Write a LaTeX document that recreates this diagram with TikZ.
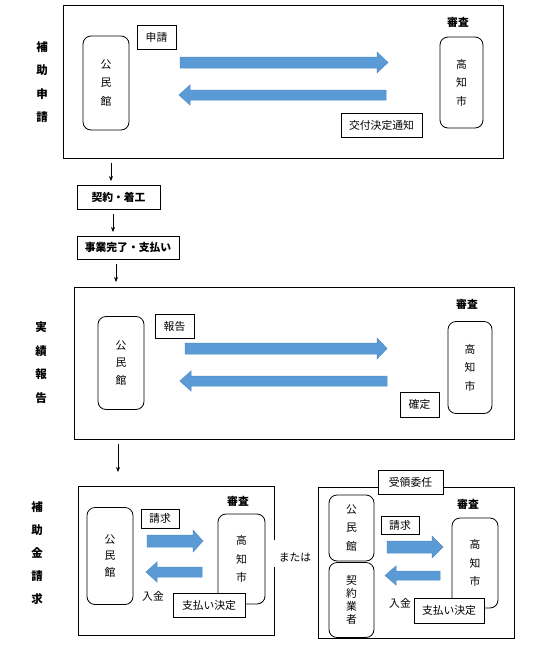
\documentclass[tikz,border=0pt]{standalone}
\usepackage{fontspec}
\setmainfont{Noto Sans CJK JP}
\usetikzlibrary{arrows.meta}
\definecolor{arfill}{HTML}{5B9BD5}
\definecolor{ardraw}{HTML}{4F8BC6}
\newcommand{\vsp}[1]{\fontsize{10.8}{#1}\selectfont}
\newcommand{\rblk}[6]{\filldraw[blk] (#1,{#3-#4}) -- ({#2-#6},{#3-#4}) -- ({#2-#6},{#3-#5}) -- (#2,#3) -- ({#2-#6},{#3+#5}) -- ({#2-#6},{#3+#4}) -- (#1,{#3+#4}) -- cycle;}
\newcommand{\lblk}[6]{\filldraw[blk] (#2,{#3-#4}) -- ({#1+#6},{#3-#4}) -- ({#1+#6},{#3-#5}) -- (#1,#3) -- ({#1+#6},{#3+#5}) -- ({#1+#6},{#3+#4}) -- (#2,{#3+#4}) -- cycle;}
\begin{document}
\begin{tikzpicture}[x=1pt,y=-1pt,
  blk/.style={fill=arfill,draw=ardraw,line width=0.5pt},
  outer/.style={draw,line width=0.9pt},
  kbox/.style={draw,line width=0.8pt,rounded corners=8pt,inner sep=0pt,align=center},
  lbox/.style={draw,line width=0.8pt,inner sep=0pt,fill=white,font=\vsp{12}},
  bbox/.style={draw,line width=0.8pt,inner sep=0pt,font=\bfseries\vsp{12}},
  side/.style={font=\bfseries\fontsize{11.5}{23.3}\selectfont,align=center,inner sep=0pt},
  plain/.style={font=\vsp{12},inner sep=0pt},
  bold/.style={font=\bfseries\vsp{12},inner sep=0pt},
  flow/.style={-{Stealth[length=5pt,width=4pt]},line width=0.6pt}]
\useasboundingbox (0,0) rectangle (534,646);

% ===== Section 1 =====
\draw[outer] (63,5) rectangle (503,158);
\node[side] (s1) at (42,82) {補\\助\\申\\請};
\node[kbox,minimum width=46pt,minimum height=94pt,font=\vsp{18.5}] (k1) at (106,83) {公\\民\\館};
\node[lbox,minimum width=39pt,minimum height=24pt] (app) at (156.5,37) {申請};
\node[kbox,minimum width=43pt,minimum height=91pt,font=\vsp{18.5}] (c1) at (461.5,82.5) {高\\知\\市};
\node[lbox,minimum width=81pt,minimum height=24pt] (notice) at (381.5,125) {交付決定通知};
\node[bold] (sa1) at (458,22) {審査};
\rblk{180}{388}{62.5}{5.5}{10.5}{11}
\lblk{179}{386}{95}{5}{10}{11}

% ===== middle steps =====
\node[bbox,minimum width=83pt,minimum height=24pt] (kei) at (118.5,197) {契約・着工};
\node[bbox,minimum width=102pt,minimum height=23pt] (jig) at (128,247.5) {事業完了・支払い};
\coordinate (a1s) at (111,163); \coordinate (a1e) at (111,181);
\coordinate (a2s) at (113,214); \coordinate (a2e) at (113,232);
\coordinate (a3s) at (116,264); \coordinate (a3e) at (116,282);
\coordinate (a4s) at (118,444); \coordinate (a4e) at (118,472);
\draw[flow] (a1s) -- (a1e);
\draw[flow] (a2s) -- (a2e);
\draw[flow] (a3s) -- (a3e);
\draw[flow] (a4s) -- (a4e);

% ===== Section 2 =====
\draw[outer] (74,287) rectangle (514,439);
\node[side,font=\bfseries\fontsize{11.5}{23.7}\selectfont] (s2) at (41,362.5) {実\\績\\報\\告};
\node[kbox,minimum width=46pt,minimum height=93pt,font=\vsp{17.5}] (k2) at (121,363) {公\\民\\館};
\node[lbox,minimum width=39pt,minimum height=24pt] (rep) at (174.5,326) {報告};
\node[kbox,minimum width=44pt,minimum height=92pt,font=\vsp{18.5}] (c2) at (470,367.5) {高\\知\\市};
\node[lbox,minimum width=39pt,minimum height=25pt] (conf) at (419.5,404.5) {確定};
\node[bold] (sa2) at (467,304) {審査};
\rblk{185}{387}{348.5}{5.5}{10.5}{10}
\lblk{180}{387}{381}{5}{10}{11}

% ===== Section 3 left =====
\draw[outer] (274,540) -- (274,486) -- (78,486) -- (78,635) -- (274,635) -- (274,567);
\node[side,font=\bfseries\fontsize{11.5}{23}\selectfont] (s3) at (37,553) {補\\助\\金\\請\\求};
\node[kbox,minimum width=46pt,minimum height=97pt,font=\vsp{16.5}] (k3) at (110,556) {公\\民\\館};
\node[lbox,minimum width=38pt,minimum height=19pt] (req) at (160,518.5) {請求};
\node[kbox,minimum width=47pt,minimum height=90pt,font=\vsp{18.5}] (c3) at (241.5,559) {高\\知\\市};
\node[lbox,minimum width=72pt,minimum height=24pt] (pay) at (209,605) {支払い決定};
\node[bold] (sa3) at (238,501) {審査};
\node[plain] (nk3) at (153,596) {入金};
\rblk{147}{203}{541}{6}{11}{10}
\lblk{146}{202}{572}{5}{10}{11}

\node[plain] (or) at (295,557) {または};

% ===== Section 3 right =====
\draw[outer] (318,487) rectangle (514,638);
\node[lbox,minimum width=65pt,minimum height=24pt] (juryo) at (410.5,482) {受領委任};
\node[kbox,minimum width=45pt,minimum height=66pt,font=\vsp{18.5}] (k4) at (351.5,528) {公\\民\\館};
\node[kbox,minimum width=45pt,minimum height=75pt,font=\vsp{13}] (gyo) at (351.5,600) {契\\約\\業\\者};
\node[lbox,minimum width=38pt,minimum height=18pt] (req2) at (400,525) {請求};
\node[kbox,minimum width=46pt,minimum height=90pt,font=\vsp{18.5}] (c4) at (475,563) {高\\知\\市};
\node[lbox,minimum width=70pt,minimum height=25pt] (pay2) at (449,610.5) {支払い決定};
\node[bold] (sa4) at (468,504) {審査};
\node[plain] (nk4) at (400,603) {入金};
\rblk{387}{443}{547}{6}{11}{11}
\lblk{385}{440}{575.5}{4.5}{9.5}{11}
\end{tikzpicture}
\end{document}
